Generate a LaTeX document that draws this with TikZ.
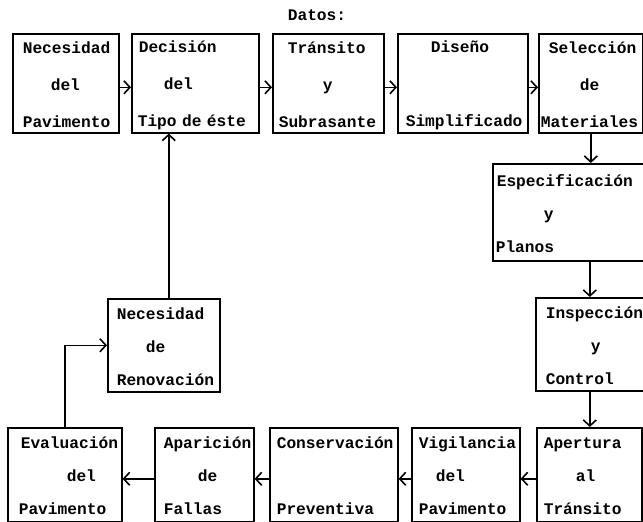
\documentclass[tikz,border=0pt]{standalone}
\usepackage{fontspec}
\setmonofont{Liberation Mono}
\usetikzlibrary{arrows.meta}
\newcommand\renglon[2]{\hspace*{#1pt}\mbox{\rule[-2pt]{0pt}{18pt}#2}}

\begin{document}
\begin{tikzpicture}[x=1pt, y=-1pt,
    caja/.style={draw, line width=1.6pt, anchor=north west, inner sep=0pt, align=left,
        font=\ttfamily\bfseries\fontsize{16.2}{33}\selectfont},
    cajaalta/.style={caja, minimum height=99pt,
        font=\ttfamily\bfseries\fontsize{16.2}{37}\selectfont},
    flecha/.style={line width=1.6pt, -{Straight Barb[length=6pt,width=13pt]}}]
    \useasboundingbox (0,0) rectangle (643,522);

    \node[font=\ttfamily\bfseries\fontsize{16.2}{20}\selectfont] (datos) at (317,15) {Datos:};

    % fila de arriba
    \node[cajaalta, text width=106pt] (necpav) at (12,33)
        {\renglon{10}{Necesidad}\\ \renglon{38}{del}\\ \renglon{10}{Pavimento}};
    \node[cajaalta, text width=127pt] (dectip) at (131,33)
        {\renglon{7}{Decisión}\\ \renglon{32}{del}\\ \renglon{6}{Tipo de éste}};
    \node[cajaalta, text width=111pt] (trasub) at (272,33)
        {\renglon{15}{Tránsito}\\ \renglon{50}{y}\\ \renglon{6}{Subrasante}};
    \node[cajaalta, text width=130pt] (dissim) at (397,33)
        {\renglon{33}{Diseño}\\ \renglon{0}{}\\ \renglon{8}{Simplificado}};
    \node[cajaalta, text width=104pt] (selmat) at (538,33)
        {\renglon{10}{Selección}\\ \renglon{41}{de}\\ \renglon{2}{Materiales}};

    % columna derecha
    \node[caja, text width=151pt, minimum height=97pt] (espla) at (492,163)
        {\renglon{4}{Especificación}\\ \renglon{51}{y}\\ \renglon{3}{Planos}};
    \node[caja, text width=108pt, minimum height=93pt] (inscon) at (535,297)
        {\renglon{10}{Inspección}\\ \renglon{55}{y}\\ \renglon{10}{Control}};

    % fila de abajo
    \node[caja, text width=105pt, minimum height=94pt] (apetra) at (536,427)
        {\renglon{7}{Apertura}\\ \renglon{39}{al}\\ \renglon{7}{Tránsito}};
    \node[caja, text width=108pt, minimum height=94pt] (vigpav) at (411,427)
        {\renglon{7}{Vigilancia}\\ \renglon{24}{del}\\ \renglon{7}{Pavimento}};
    \node[caja, text width=128pt, minimum height=94pt] (conpre) at (269,427)
        {\renglon{7}{Conservación}\\ \renglon{0}{}\\ \renglon{7}{Preventiva}};
    \node[caja, text width=99pt, minimum height=94pt] (apafal) at (154,427)
        {\renglon{9}{Aparición}\\ \renglon{43}{de}\\ \renglon{9}{Fallas}};
    \node[caja, text width=114pt, minimum height=94pt] (evapav) at (7,427)
        {\renglon{13}{Evaluación}\\ \renglon{59}{del}\\ \renglon{11}{Pavimento}};

    \node[caja, text width=112pt, minimum height=93pt] (necren) at (107,298)
        {\renglon{9}{Necesidad}\\ \renglon{38}{de}\\ \renglon{9}{Renovación}};

    % flechas
    \draw[flecha] ([yshift=-4pt]necpav.east) -- ([yshift=-4pt]dectip.west);
    \draw[flecha] ([yshift=-4pt]dectip.east) -- ([yshift=-4pt]trasub.west);
    \draw[flecha] ([yshift=-4pt]trasub.east) -- ([yshift=-4pt]dissim.west);
    \draw[flecha] ([yshift=-4pt]dissim.east) -- ([yshift=-4pt]selmat.west);
    \draw[flecha] (selmat.south) -- (selmat.south |- espla.north);
    \draw[flecha] (espla.south -| inscon.north) -- (inscon.north);
    \draw[flecha] (inscon.south) -- (inscon.south |- apetra.north);
    \draw[flecha] ([yshift=-4pt]apetra.west) -- ([yshift=-4pt]vigpav.east);
    \draw[flecha] ([yshift=-4pt]vigpav.west) -- ([yshift=-4pt]conpre.east);
    \draw[flecha] ([yshift=-4pt]conpre.west) -- ([yshift=-4pt]apafal.east);
    \draw[flecha] ([yshift=-4pt]apafal.west) -- ([yshift=-4pt]evapav.east);
    \draw[flecha] (evapav.north) |- (necren.west);
    \draw[flecha] ([xshift=5pt]necren.north) -- ([xshift=5pt]necren.north |- dectip.south);
\end{tikzpicture}
\end{document}
